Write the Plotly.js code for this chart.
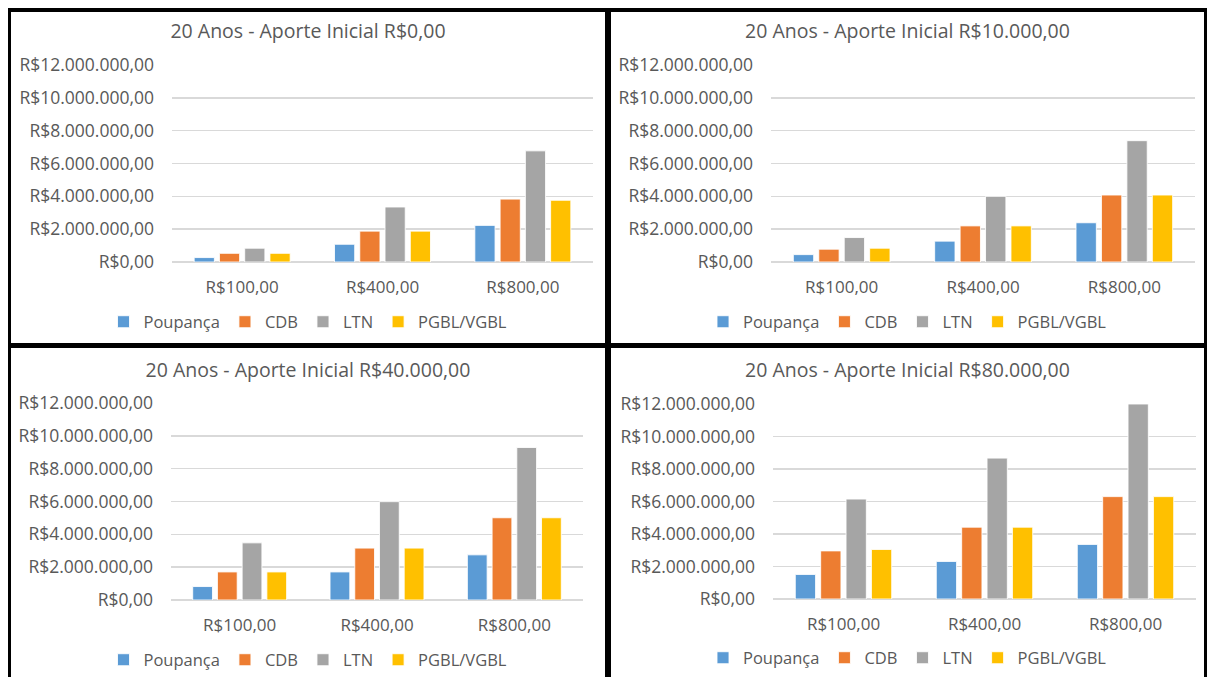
<!DOCTYPE html>
<html>
<head>
<meta charset="utf-8">
<script src="https://cdn.plot.ly/plotly-3.0.1.min.js"></script>
<style>
  html, body { margin: 0; padding: 0; background: #ffffff; }
  body { width: 1207px; height: 677px; position: relative; overflow: hidden; }
  #frame { position: absolute; left: 8px; top: 8px; width: 1199px; height: 669px; background: #000000; }
  .panel { position: absolute; background: #ffffff; overflow: hidden; }
</style>
</head>
<body>
<div id="frame"></div>
<div id="p1" class="panel" style="left:11px; top:12px; width:594px; height:331px;"></div>
<div id="p2" class="panel" style="left:611px; top:12px; width:593px; height:331px;"></div>
<div id="p3" class="panel" style="left:11px; top:348px; width:594px; height:329px;"></div>
<div id="p4" class="panel" style="left:611px; top:348px; width:593px; height:329px;"></div>
<script>
// ---- Data ----
const categories = ['R$100,00', 'R$400,00', 'R$800,00'];
const seriesNames = ['Poupança', 'CDB', 'LTN', 'PGBL/VGBL'];
const chartTitles = [
  '20 Anos - Aporte Inicial R$0,00',
  '20 Anos - Aporte Inicial R$10.000,00',
  '20 Anos - Aporte Inicial R$40.000,00',
  '20 Anos - Aporte Inicial R$80.000,00'
];

// Aporte inicial R$0,00
const chart1_poupanca = [270000, 1080000, 2230000];
const chart1_cdb      = [530000, 1880000, 3830000];
const chart1_ltn      = [840000, 3350000, 6770000];
const chart1_pgbl     = [530000, 1880000, 3760000];

// Aporte inicial R$10.000,00
const chart2_poupanca = [450000, 1270000, 2390000];
const chart2_cdb      = [780000, 2200000, 4080000];
const chart2_ltn      = [1490000, 4000000, 7390000];
const chart2_pgbl     = [840000, 2200000, 4080000];

// Aporte inicial R$40.000,00
const chart3_poupanca = [820000, 1710000, 2750000];
const chart3_cdb      = [1710000, 3160000, 5010000];
const chart3_ltn      = [3480000, 5990000, 9290000];
const chart3_pgbl     = [1710000, 3160000, 5010000];

// Aporte inicial R$80.000,00
const chart4_poupanca = [1510000, 2310000, 3360000];
const chart4_cdb      = [2960000, 4420000, 6300000];
const chart4_ltn      = [6150000, 8670000, 12000000];
const chart4_pgbl     = [3050000, 4420000, 6300000];

const yTickValues = [0, 2000000, 4000000, 6000000, 8000000, 10000000, 12000000];
const yTickLabels = ['R$0,00', 'R$2.000.000,00', 'R$4.000.000,00', 'R$6.000.000,00',
                     'R$8.000.000,00', 'R$10.000.000,00', 'R$12.000.000,00'];

// ---- Styling ----
const colors = ['#5B9BD5', '#ED7D31', '#A5A5A5', '#FFC000'];
const FONT = 'Open Sans, Noto Sans, sans-serif';
const TEXT = '#595959';

const charts = [
  { id: 'p1', title: chartTitles[0], data: [chart1_poupanca, chart1_cdb, chart1_ltn, chart1_pgbl],
    m: { l: 161, r: 12, t: 53, b: 81 }, h: 331, titleY: 19, legendY: 310 },
  { id: 'p2', title: chartTitles[1], data: [chart2_poupanca, chart2_cdb, chart2_ltn, chart2_pgbl],
    m: { l: 160, r: 9, t: 53, b: 81 }, h: 331, titleY: 19, legendY: 310 },
  { id: 'p3', title: chartTitles[2], data: [chart3_poupanca, chart3_cdb, chart3_ltn, chart3_pgbl],
    m: { l: 160, r: 22, t: 55, b: 77 }, h: 329, titleY: 22, legendY: 312 },
  { id: 'p4', title: chartTitles[3], data: [chart4_poupanca, chart4_cdb, chart4_ltn, chart4_pgbl],
    m: { l: 162, r: 8, t: 56, b: 78 }, h: 329, titleY: 22, legendY: 310 }
];

charts.forEach(function (c) {
  const traces = seriesNames.map(function (name, i) {
    return {
      type: 'bar',
      name: name,
      x: categories,
      y: c.data[i],
      marker: { color: colors[i], line: { color: 'rgba(255,255,255,0.85)', width: 1 } },
      hoverinfo: 'skip'
    };
  });
  const layout = {
    width: document.getElementById(c.id).clientWidth,
    height: c.h,
    margin: c.m,
    paper_bgcolor: '#ffffff',
    plot_bgcolor: '#ffffff',
    font: { family: FONT, color: TEXT, size: 17 },
    title: {
      text: c.title,
      xref: 'container', x: 0.5, xanchor: 'center',
      yref: 'container', y: 1 - c.titleY / c.h, yanchor: 'middle',
      font: { family: FONT, size: 19.5, color: TEXT }
    },
    barmode: 'group',
    bargap: 0.28,
    bargroupgap: 0.2,
    showlegend: true,
    legend: {
      orientation: 'h',
      xref: 'container', x: 0.5, xanchor: 'center',
      yref: 'container', y: 1 - c.legendY / c.h, yanchor: 'middle',
      font: { family: FONT, size: 16.5, color: TEXT },
      traceorder: 'normal'
    },
    xaxis: {
      type: 'category',
      showgrid: false,
      showline: false,
      zeroline: false,
      ticks: '',
      ticklabelstandoff: 13,
      tickfont: { family: FONT, size: 17, color: TEXT }
    },
    yaxis: {
      range: [0, 12000000],
      tickmode: 'array',
      tickvals: yTickValues,
      ticktext: yTickLabels,
      showgrid: true,
      gridcolor: '#D9D9D9',
      gridwidth: 1.5,
      zeroline: true,
      zerolinecolor: '#D9D9D9',
      zerolinewidth: 1.5,
      showline: false,
      ticks: '',
      ticklabelstandoff: 17,
      tickfont: { family: FONT, size: 17.5, color: TEXT }
    }
  };
  Plotly.newPlot(c.id, traces, layout, { staticPlot: true, displayModeBar: false });
});
</script>
</body>
</html>
